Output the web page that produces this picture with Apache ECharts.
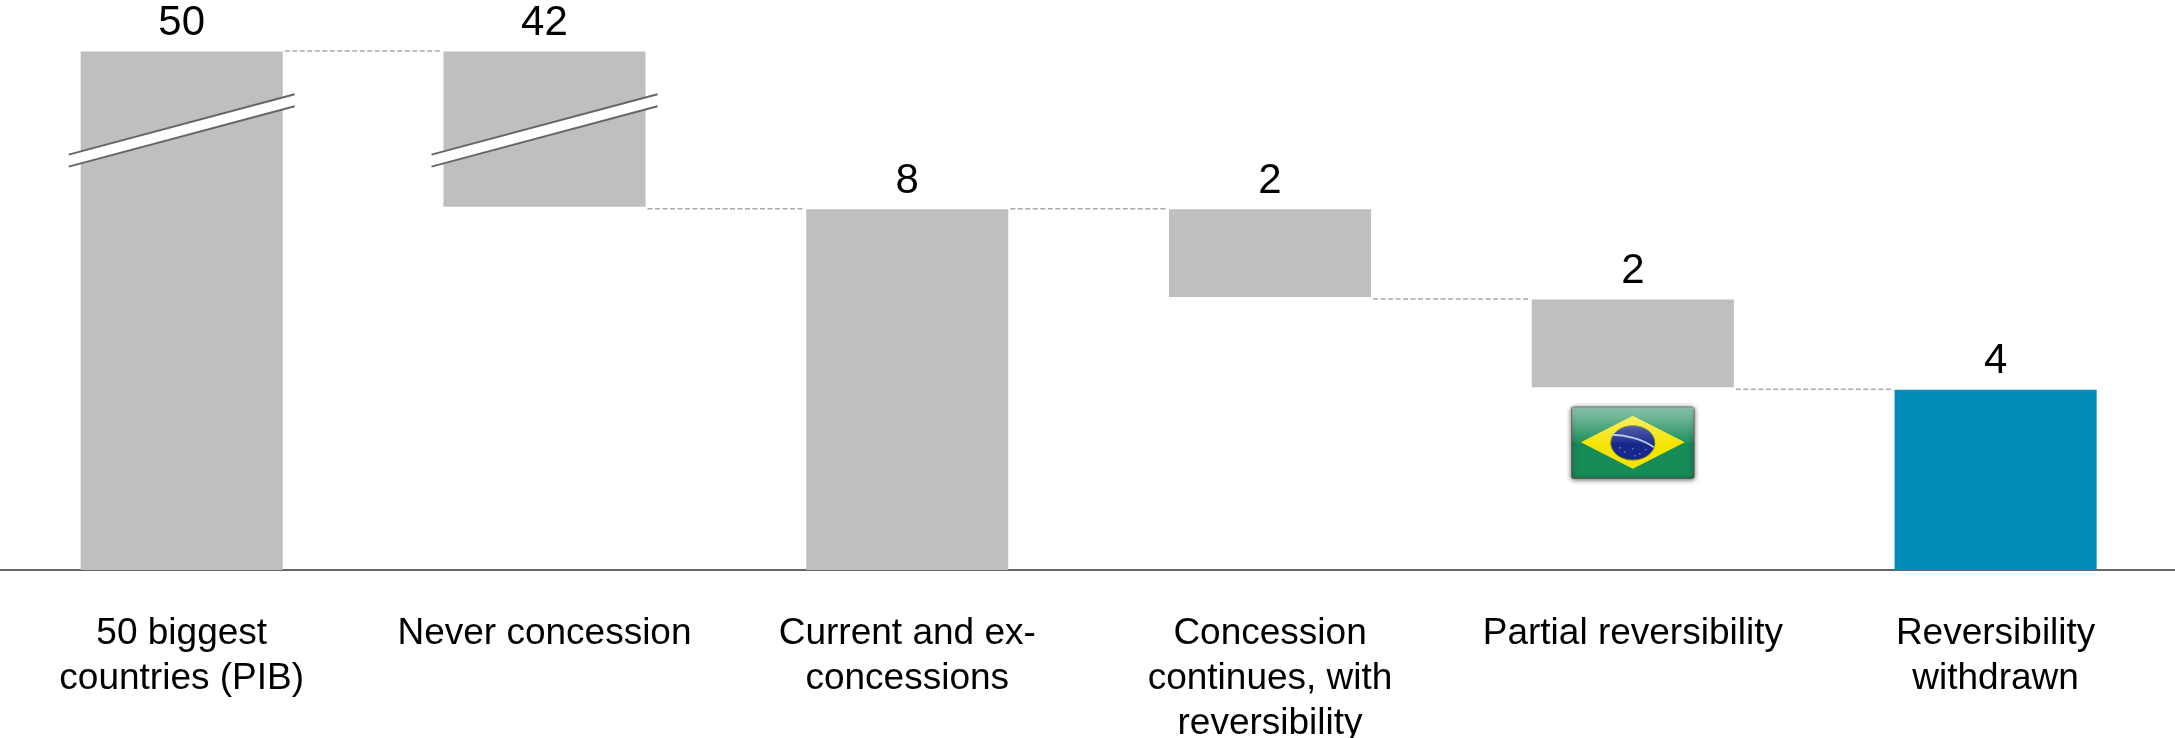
<!DOCTYPE html>
<html>
<head>
<meta charset="utf-8">
<style>html,body{margin:0;padding:0;background:#fff}#chart{width:2175px;height:738px}</style>
<script src="https://cdn.jsdelivr.net/npm/echarts@6/dist/echarts.min.js"></script>
</head>
<body>
<div id="chart"></div>
<script>
// Waterfall from the 50 biggest countries down to those that withdrew reversibility.
const categories = [
  '50 biggest\ncountries (PIB)',
  'Never concession',
  'Current and ex-\nconcessions',
  'Concession\ncontinues, with\nreversibility',
  'Partial reversibility',
  'Reversibility\nwithdrawn'
];
const stepValues = [50, 42, 8, 2, 2, 4];
const hiddenBase = [0, 8, 0, 6, 4, 0];
const connectorLevels = [50, 8, 8, 6, 4];
const brokenBars = [0, 1];
const axisBreak = { start: 9.75, end: 48.25 };
const flagCategory = 4;
const flagLevel = 2.82;

const GREY = '#bfbfbf';
const BLUE = '#008bb6';
const BAR_SHARE = 0.557;
const FONT = '"Liberation Sans", Arial, sans-serif';

// Dashed link from one bar to the next, with the small white slit under the floating bar.
function renderConnector(params, api) {
  const i = api.value(0);
  const level = api.value(1);
  const p = api.coord([i, level]);
  const band = api.size([1, 0])[0];
  const half = band * BAR_SHARE / 2;
  const children = [];
  const slitOwner = hiddenBase[i] === level ? i : (hiddenBase[i + 1] === level ? i + 1 : -1);
  if (slitOwner >= 0) {
    const cx = api.coord([slitOwner, level])[0];
    children.push({
      type: 'rect',
      shape: { x: cx - half - 1, y: p[1] - 2.5, width: half * 2 + 2, height: 3.5 },
      style: { fill: '#fff' }
    });
  }
  children.push({
    type: 'line',
    shape: { x1: p[0] + half + 2, y1: p[1] - 0.5, x2: p[0] + band - half - 2, y2: p[1] - 0.5 },
    style: { stroke: '#a9a9a9', lineWidth: 1.5, lineDash: [5, 2.5] }
  });
  return { type: 'group', children };
}

// Slanted white cut marking the axis break on the tall bars.
function renderBreakMark(params, api) {
  const [cx, cy] = api.coord([api.value(0), api.value(1)]);
  const reach = 113, rise = 30.2, gap = 6;
  return {
    type: 'group',
    children: [
      { type: 'polygon',
        shape: { points: [[cx - reach, cy + rise - gap], [cx + reach, cy - rise - gap], [cx + reach, cy - rise + gap], [cx - reach, cy + rise + gap]] },
        style: { fill: '#fff' } },
      { type: 'line', shape: { x1: cx - reach, y1: cy + rise - gap, x2: cx + reach, y2: cy - rise - gap },
        style: { stroke: '#666', lineWidth: 2 } },
      { type: 'line', shape: { x1: cx - reach, y1: cy + rise + gap, x2: cx + reach, y2: cy - rise + gap },
        style: { stroke: '#666', lineWidth: 2 } }
    ]
  };
}

// Glossy Brazilian flag set beneath the partial-reversibility bar.
function renderFlag(params, api) {
  const [cx, cy] = api.coord([api.value(0), api.value(1)]);
  const w = 122, h = 71;
  const x = cx - w / 2, y = cy - h / 2;
  const my = cy - 0.7;
  const pts = [[cx - 52, my], [cx, my - 26.5], [cx + 52, my], [cx, my + 26.5]];
  const stars = [[-8, 9], [0, 6], [7, 11], [13, 7], [-13, 5], [2, 13]];
  return {
    type: 'group',
    children: [
      { type: 'rect', shape: { x, y, width: w, height: h, r: 2 },
        style: { fill: '#178b58', stroke: 'rgba(70,80,70,0.75)', lineWidth: 1.5,
          shadowBlur: 5, shadowColor: 'rgba(0,0,0,0.6)', shadowOffsetY: 1 } },
      { type: 'polygon', shape: { points: pts }, style: { fill: '#f5e400' } },
      { type: 'ellipse', shape: { cx: cx, cy: cy, rx: 22, ry: 17.2 }, style: { fill: '#17278c', stroke: '#5f7a2a', lineWidth: 1 } }
    ].concat(stars.map(s => ({
      type: 'circle', shape: { cx: cx + s[0], cy: cy + s[1], r: 0.8 }, style: { fill: 'rgba(190,200,235,0.6)' }
    }))).concat([
      { type: 'bezierCurve',
        shape: { x1: cx - 21, y1: cy - 8, cpx1: cx - 8, cpy1: cy - 8, cpx2: cx + 9, cpy2: cy - 4, x2: cx + 21, y2: cy + 4.4 },
        style: { stroke: '#a9c9d8', lineWidth: 2, fill: 'none' } },
      { type: 'rect', shape: { x, y, width: w, height: h / 2 },
        style: { fill: new echarts.graphic.LinearGradient(0, 0, 0, 1, [
          { offset: 0, color: 'rgba(255,255,255,0.5)' },
          { offset: 1, color: 'rgba(255,255,255,0.04)' }
        ]) } }
    ])
  };
}

const chart = echarts.init(document.getElementById('chart'), null, { renderer: 'canvas' });
chart.setOption({
  animation: false,
  backgroundColor: '#fff',
  grid: { left: 0.3, right: -2, top: 51.5, bottom: 168, containLabel: false, outerBoundsMode: 'none' },
  xAxis: {
    type: 'category',
    data: categories,
    offset: 1,
    axisLine: { lineStyle: { color: '#666', width: 2 } },
    axisTick: { show: false },
    axisLabel: {
      interval: 0, margin: 40, color: '#000',
      fontFamily: FONT, fontSize: 37, lineHeight: 45,
      verticalAlign: 'top'
    }
  },
  yAxis: {
    type: 'value',
    show: false,
    min: 0,
    max: 50,
    splitLine: { show: false },
    breaks: [{ start: axisBreak.start, end: axisBreak.end, gap: 0 }],
    breakArea: { show: false }
  },
  series: [
    {
      type: 'bar', stack: 'steps', silent: true,
      barWidth: (BAR_SHARE * 100) + '%',
      data: hiddenBase,
      itemStyle: { color: 'transparent' }
    },
    {
      type: 'bar', stack: 'steps', name: 'Countries',
      barWidth: (BAR_SHARE * 100) + '%',
      data: stepValues.map((v, i) => ({
        value: v,
        itemStyle: { color: i === stepValues.length - 1 ? BLUE : GREY }
      })),
      label: {
        show: true, position: 'top', distance: 7, color: '#000',
        fontFamily: FONT, fontSize: 42
      }
    },
    {
      type: 'custom', silent: true, clip: false, z: 4,
      data: connectorLevels.map((level, i) => [i, level]),
      encode: { x: 0, y: 1 },
      renderItem: renderConnector
    },
    {
      type: 'custom', silent: true, clip: false, z: 5,
      data: brokenBars.map(i => [i, axisBreak.start]),
      encode: { x: 0, y: 1 },
      renderItem: renderBreakMark
    },
    {
      type: 'custom', silent: true, clip: false, z: 5,
      data: [[flagCategory, flagLevel]],
      encode: { x: 0, y: 1 },
      renderItem: renderFlag
    }
  ]
});
</script>
</body>
</html>
